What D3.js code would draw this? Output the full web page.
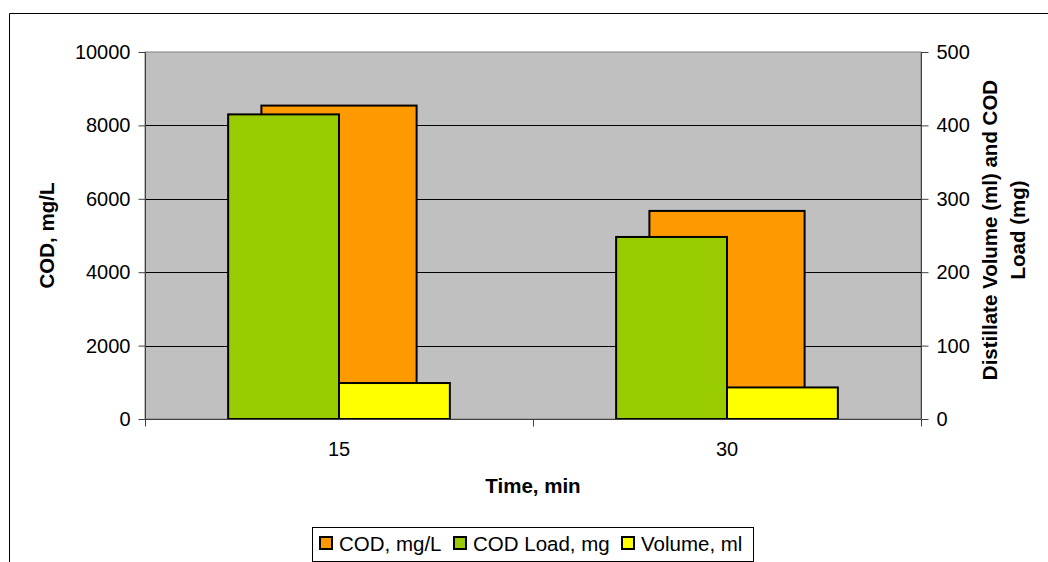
<!DOCTYPE html>
<html>
<head>
<meta charset="utf-8">
<script src="https://cdn.jsdelivr.net/npm/d3@7"></script>
<style>
  html, body { margin: 0; padding: 0; background: #fff; }
  svg { display: block; font-family: "Liberation Sans", Arial, sans-serif; }
  .axis text { font-size: 20px; fill: #000; }
  .title { font-size: 20.5px; font-weight: bold; }
</style>
</head>
<body>
<div id="chart"></div>
<script>
  // Data
  var categories = ["15", "30"];
  var codMgL = [8540, 5670];        // primary axis
  var codLoadMg = [415, 248];       // secondary axis
  var volumeMl = [49, 43];          // secondary axis
  var leftTicks = [0, 2000, 4000, 6000, 8000, 10000];
  var rightTicks = [0, 100, 200, 300, 400, 500];

  var series = [
    { name: "COD, mg/L", values: codMgL, color: "#ff9900", axis: "left" },
    { name: "COD Load, mg", values: codLoadMg, color: "#99cc00", axis: "right" },
    { name: "Volume, ml", values: volumeMl, color: "#ffff00", axis: "right" }
  ];

  var W = 1048, H = 562;
  var plot = { left: 145, right: 921, top: 52, bottom: 419 };

  var svg = d3.select("#chart").append("svg")
    .attr("width", W)
    .attr("height", H);

  // Chart area border (only top and left edges are in frame)
  svg.append("path")
    .attr("d", "M9.5," + H + "V13.5H" + W)
    .attr("fill", "none")
    .attr("stroke", "#000")
    .attr("stroke-width", 1);

  var x = d3.scaleBand().domain(categories).range([plot.left, plot.right]);
  var yL = d3.scaleLinear().domain([0, 10000]).range([plot.bottom, plot.top]);
  var yR = d3.scaleLinear().domain([0, 500]).range([plot.bottom, plot.top]);
  var bw = x.bandwidth();

  // Excel style gap width 150%: one bar on the primary axis, two on the secondary
  var primarySeries = series.filter(function (s) { return s.axis === "left"; });
  var secondarySeries = series.filter(function (s) { return s.axis === "right"; });
  var xp = d3.scaleBand().domain(primarySeries.map(function (s) { return s.name; }))
    .range([0, bw]).paddingInner(0).paddingOuter(0.75);
  var xs = d3.scaleBand().domain(secondarySeries.map(function (s) { return s.name; }))
    .range([0, bw]).paddingInner(0).paddingOuter(0.75);

  // Plot area
  svg.append("rect")
    .attr("x", plot.left)
    .attr("y", plot.top)
    .attr("width", plot.right - plot.left)
    .attr("height", plot.bottom - plot.top)
    .attr("fill", "#c0c0c0")
    .attr("stroke", "#808080")
    .attr("stroke-width", 1);

  // Gridlines
  svg.append("g")
    .selectAll("line")
    .data(leftTicks.filter(function (d) { return d > 0 && d < 10000; }))
    .enter().append("line")
    .attr("x1", plot.left)
    .attr("x2", plot.right)
    .attr("y1", function (d) { return Math.round(yL(d)) + 0.5; })
    .attr("y2", function (d) { return Math.round(yL(d)) + 0.5; })
    .attr("stroke", "#000")
    .attr("stroke-width", 1);

  // Bars
  function drawBars(list, sub, y) {
    list.forEach(function (s) {
      svg.append("g")
        .selectAll("rect")
        .data(s.values)
        .enter().append("rect")
        .attr("x", function (d, i) { return x(categories[i]) + sub(s.name); })
        .attr("y", function (d) { return y(d); })
        .attr("width", sub.bandwidth())
        .attr("height", function (d) { return plot.bottom - y(d); })
        .attr("fill", s.color)
        .attr("stroke", "#000")
        .attr("stroke-width", 2);
    });
  }
  drawBars(primarySeries, xp, yL);
  drawBars(secondarySeries, xs, yR);

  var fmt = d3.format("d");

  // Left axis
  var axL = svg.append("g")
    .attr("class", "axis")
    .attr("transform", "translate(" + (plot.left + 0.5) + ",0)")
    .call(d3.axisLeft(yL).tickValues(leftTicks).tickFormat(fmt).tickSize(7).tickPadding(8));
  axL.selectAll("line, path").attr("stroke", "#404040");
  axL.select(".domain").attr("d", "M0," + plot.top + "V" + plot.bottom);

  // Right axis
  var axR = svg.append("g")
    .attr("class", "axis")
    .attr("transform", "translate(" + (plot.right + 0.5) + ",0)")
    .call(d3.axisRight(yR).tickValues(rightTicks).tickFormat(fmt).tickSize(7).tickPadding(8));
  axR.selectAll("line, path").attr("stroke", "#404040");
  axR.select(".domain").attr("d", "M0," + plot.top + "V" + plot.bottom);

  // Bottom axis
  var axB = svg.append("g")
    .attr("class", "axis")
    .attr("transform", "translate(0," + (plot.bottom + 0.5) + ")")
    .call(d3.axisBottom(x).tickSize(0).tickPadding(22));
  axB.select(".domain").attr("d", "M" + plot.left + ",0H" + plot.right).attr("stroke", "#404040");
  axB.selectAll(".tick text").attr("dy", "0.71em");
  // Category separators
  axB.selectAll(".sep")
    .data(x.domain().concat(["end"]))
    .enter().append("line")
    .attr("x1", function (d, i) { return Math.round(plot.left + i * bw) + 0.5; })
    .attr("x2", function (d, i) { return Math.round(plot.left + i * bw) + 0.5; })
    .attr("y1", 0)
    .attr("y2", 7)
    .attr("stroke", "#404040");

  // Axis titles
  svg.append("text")
    .attr("class", "title")
    .attr("x", (plot.left + plot.right) / 2)
    .attr("y", 493)
    .attr("text-anchor", "middle")
    .text("Time, min");

  svg.append("text")
    .attr("class", "title")
    .attr("transform", "translate(54," + ((plot.top + plot.bottom) / 2) + ") rotate(-90)")
    .attr("text-anchor", "middle")
    .text("COD, mg/L");

  var rTitle = svg.append("text")
    .attr("class", "title")
    .attr("transform", "translate(997,230) rotate(-90)")
    .attr("text-anchor", "middle");
  rTitle.append("tspan").attr("x", 0).attr("y", 0).text("Distillate Volume (ml) and COD");
  rTitle.append("tspan").attr("x", 0).attr("y", 28).text("Load (mg)");

  // Legend
  var legend = svg.append("g");
  legend.append("rect")
    .attr("x", 312.5)
    .attr("y", 527.5)
    .attr("width", 441)
    .attr("height", 34)
    .attr("fill", "#fff")
    .attr("stroke", "#000");

  var legendX = [320, 454, 622];
  series.forEach(function (s, i) {
    legend.append("rect")
      .attr("x", legendX[i])
      .attr("y", 537)
      .attr("width", 12)
      .attr("height", 12)
      .attr("fill", s.color)
      .attr("stroke", "#000")
      .attr("stroke-width", 2);
    legend.append("text")
      .attr("x", legendX[i] + 19)
      .attr("y", 551)
      .style("font-size", "20.5px")
      .text(s.name);
  });
</script>
</body>
</html>
